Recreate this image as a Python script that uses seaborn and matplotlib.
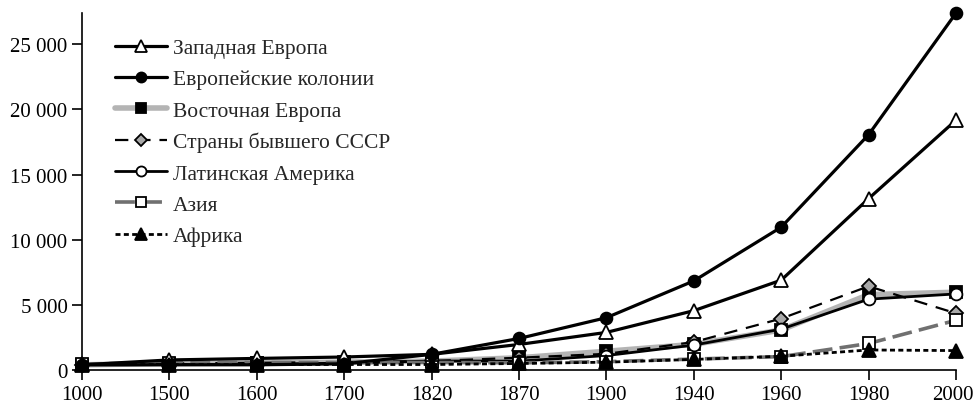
import matplotlib
matplotlib.use("Agg")
import matplotlib.pyplot as plt
import matplotlib.transforms as mtransforms
import seaborn as sns
import numpy as np
from matplotlib.ticker import FuncFormatter

years = ["1000", "1500", "1600", "1700", "1820", "1870", "1900", "1940", "1960", "1980", "2000"]
western_europe = [400, 771, 889, 997, 1202, 1960, 2885, 4554, 6896, 13154, 19176]
european_colonies = [400, 400, 400, 476, 1202, 2419, 4015, 6838, 10961, 18060, 27394]
eastern_europe = [400, 496, 548, 606, 683, 937, 1438, 1969, 3070, 5786, 5970]
former_ussr = [400, 499, 552, 610, 688, 943, 1237, 2144, 3945, 6426, 4351]
latin_america = [400, 416, 438, 527, 692, 681, 1109, 1912, 3135, 5438, 5838]
asia = [450, 568, 574, 572, 577, 550, 638, 840, 1026, 2034, 3817]
africa = [425, 414, 422, 421, 420, 500, 601, 813, 1055, 1538, 1489]

labels = ["Западная Европа", "Европейские колонии", "Восточная Европа",
          "Страны бывшего СССР", "Латинская Америка", "Азия", "Африка"]

sns.set_style("ticks")
plt.rcParams['font.family'] = ['Liberation Serif', 'DejaVu Serif']

fig = plt.figure(figsize=(9.74, 4.06), dpi=100)
ax = fig.add_axes([82/974, 1-371/406, (956-82)/974, (371-14)/406])

x = np.arange(len(years))

styles = [
    dict(data=western_europe, color="black", lw=2.3, ls="-", marker="^", mfc="white", mec="black", ms=9.5, z=5),
    dict(data=european_colonies, color="black", lw=2.3, ls="-", marker="o", mfc="black", mec="black", ms=8.5, z=5),
    dict(data=eastern_europe, color="#b4b4b4", lw=4.0, ls="-", marker="s", mfc="black", mec="black", ms=8, z=2),
    dict(data=former_ussr, color="black", lw=1.6, ls=(0, (6, 4)), marker="D", mfc="#a8a8a8", mec="black", ms=7, z=3),
    dict(data=latin_america, color="black", lw=2.0, ls="-", marker="o", mfc="white", mec="black", ms=8.5, z=4),
    dict(data=asia, color="#707070", lw=2.6, ls=(0, (5.5, 2)), marker="s", mfc="white", mec="black", ms=8.5, z=4),
    dict(data=africa, color="black", lw=2.0, ls=(0, (1.8, 1.2)), marker="^", mfc="black", mec="black", ms=9.5, z=6),
]

for lab, st in zip(labels, styles):
    sns.lineplot(x=x, y=st["data"], ax=ax, label=lab, color=st["color"], linewidth=st["lw"],
                 linestyle=st["ls"], marker=st["marker"], markerfacecolor=st["mfc"],
                 markeredgecolor=st["mec"], markeredgewidth=1.3, markersize=st["ms"],
                 zorder=st["z"], clip_on=False)

ax.set_xlim(0, len(years) - 1)
ax.set_ylim(0, 27400)
ax.set_xticks(x)
ax.set_xticklabels(years)
ax.set_yticks([0, 5000, 10000, 15000, 20000, 25000])
ax.yaxis.set_major_formatter(FuncFormatter(lambda v, p: f"{int(v):,}".replace(",", " ")))
ax.tick_params(axis="both", labelsize=15, length=7, width=1.2, color="black", labelcolor="black")
for s in ["top", "right"]:
    ax.spines[s].set_visible(False)
for s in ["left", "bottom"]:
    ax.spines[s].set_linewidth(1.2)
    ax.spines[s].set_color("black")
ax.set_xlabel("")
ax.set_ylabel("")

# nudge the last x label so it stays inside the image
last = ax.get_xticklabels()[-1]
last.set_transform(last.get_transform() + mtransforms.ScaledTranslation(-3/100, 0, fig.dpi_scale_trans))

leg = ax.legend(loc="upper left", bbox_to_anchor=(33/874, 0.93), frameon=False, fontsize=15.5,
                handlelength=2.4, labelspacing=0.52, handletextpad=0.3,
                borderaxespad=0, borderpad=0, markerscale=0.85)

fig.savefig("out.png", dpi=100)
